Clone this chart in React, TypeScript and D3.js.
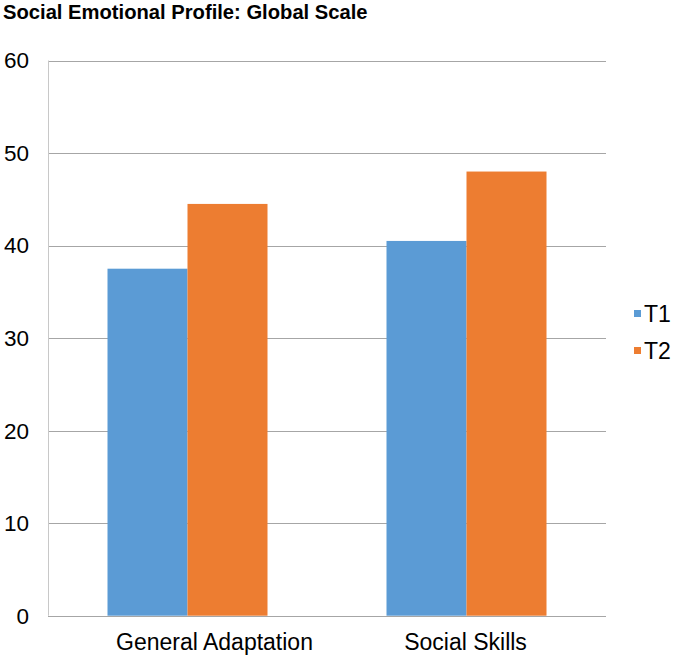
import React from "react";
import * as d3 from "d3";

const categories = ["General Adaptation", "Social Skills"];
const seriesNames = ["T1", "T2"];
const t1Values = [37.5, 40.5];
const t2Values = [44.5, 48];
const yTicks = [0, 10, 20, 30, 40, 50, 60];
const colors = ["#5B9BD5", "#ED7D31"];
const title = "Social Emotional Profile: Global Scale";

export default function App() {
  const W = 678, H = 657;
  const left = 48, right = 606, top = 60.5, bottom = 615.7;
  const font = "'Liberation Sans', Arial, sans-serif";
  const x0 = d3.scaleBand<string>().domain(categories).range([left, right]).paddingInner(0).paddingOuter(0);
  const y = d3.scaleLinear().domain([0, 60]).range([bottom, top]);
  const groupW = x0.bandwidth() * (160 / 279);
  const x1 = d3.scaleBand<string>().domain(seriesNames).range([0, groupW]).padding(0);
  const series = [t1Values, t2Values];
  const labelDx = [27, -1];

  return (
    <svg width={W} height={H} style={{ position: "absolute", left: 0, top: 0, background: "#fff" }}>
      <rect x={0} y={0} width={W} height={H} fill="#fff" />
      <text x={3} y={19} fontFamily={font} fontWeight="bold" fontSize={20.2} fill="#000">{title}</text>
      {yTicks.map((t) => (
        <g key={t}>
          <line x1={left} x2={right} y1={Math.round(y(t)) + 0.5} y2={Math.round(y(t)) + 0.5} stroke="#a6a6a6" strokeWidth={1} />
          <text x={29} y={y(t)} dy="0.35em" textAnchor="end" fontFamily={font} fontSize={22.5} fill="#000">{t}</text>
        </g>
      ))}
      <line x1={left + 0.5} x2={left + 0.5} y1={y(60)} y2={y(0)} stroke="#c8c8c8" strokeWidth={1} />
      {categories.map((c, i) => {
        const gx = (x0(c) as number) + (x0.bandwidth() - groupW) / 2;
        return (
          <g key={c}>
            {seriesNames.map((s, j) => (
              <rect key={s} x={gx + (x1(s) as number)} y={y(series[j][i])} width={x1.bandwidth()} height={y(0) - y(series[j][i])} fill={colors[j]} />
            ))}
            <text x={(x0(c) as number) + x0.bandwidth() / 2 + labelDx[i]} y={650} textAnchor="middle" fontFamily={font} fontSize={23} fill="#000">{c}</text>
          </g>
        );
      })}
      <line x1={left} x2={right} y1={Math.round(y(0)) + 0.5} y2={Math.round(y(0)) + 0.5} stroke="#a6a6a6" strokeWidth={1} />
      {seriesNames.map((s, j) => (
        <g key={s}>
          <rect x={634} y={310 + j * 37} width={7} height={7} fill={colors[j]} />
          <text x={644} y={313.5 + j * 37} dy="0.35em" fontFamily={font} fontSize={23} fill="#000">{s}</text>
        </g>
      ))}
    </svg>
  );
}
